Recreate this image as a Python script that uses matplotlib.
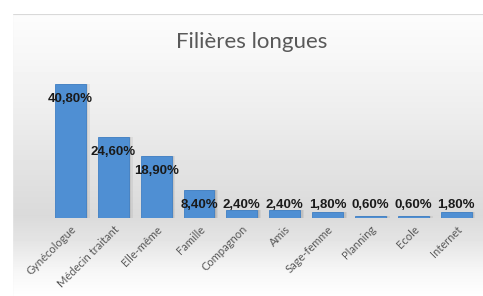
import numpy as np
import matplotlib
matplotlib.use("Agg")
from matplotlib import pyplot as plt
from matplotlib.patches import Rectangle

categories = ["Gynécologue", "Médecin traitant", "Elle-même", "Famille", "Compagnon",
              "Amis", "Sage-femme", "Planning", "Ecole", "Internet"]
values = [40.8, 24.6, 18.9, 8.4, 2.4, 2.4, 1.8, 0.6, 0.6, 1.8]
title = "Filières longues"

plt.rcParams['font.family'] = ['Lato', 'DejaVu Sans']

W, H = 483, 296
fig = plt.figure(figsize=(W / 100, H / 100), dpi=100)

# background gradient of the chart area
bg = fig.add_axes([0, 0, 1, 1], zorder=0)
bg.set_axis_off()
ys = np.array([0, 14, 60, 120, 180, 215, 240, 270, 296])
gs = np.array([255, 252, 246, 236, 224, 218, 228, 246, 255])
yy = np.arange(H)
col = np.interp(yy, ys, gs) / 255.0
img = np.repeat(col[:, None], 10, axis=1)
bg.imshow(img, cmap="gray", vmin=0, vmax=1, aspect="auto", extent=[0, 1, 0, 1])
bg.set_xlim(0, 1)
bg.set_ylim(0, 1)
# chart border
bg.add_patch(Rectangle((12 / W, -0.1), 1.2, 1 - 14 / H + 0.1, fill=False,
                       edgecolor="#d0d0d0", linewidth=0.8))
# white outside of border
bg.add_patch(Rectangle((0, 0), 12 / W - 0.001, 1, color="white"))
bg.add_patch(Rectangle((0, 1 - 14 / H + 0.002), 1, 1, color="white"))

fig.text(252 / W, 1 - 42 / H, title, ha="center", va="center",
         fontsize=16, color="#595959")

ax = fig.add_axes([49 / W, 1 - 218 / H, 428.5 / W, 148 / H], zorder=1)
ax.patch.set_alpha(0)
x = np.arange(len(categories))

# soft shadow
for dx, a in [(0.09, 0.10), (0.06, 0.12), (0.03, 0.14)]:
    ax.bar(x + dx, values, width=0.72, color="#606060", alpha=a, zorder=1)
ax.bar(x, values, width=0.72, color="#4f8fd3", edgecolor="#3f7fc4",
       linewidth=0.6, zorder=2)

for xi, v in zip(x, values):
    label = f"{v:.2f}%".replace(".", ",")
    ax.text(xi, max(v - 4.5, 4.0), label, ha="center", va="center",
            fontsize=9.5, fontweight="bold", color="#1a1a1a", zorder=3,
            family=["Liberation Sans", "DejaVu Sans"])

ax.set_xlim(-0.5, len(categories) - 0.5)
ax.set_ylim(0, 45)
ax.set_xticks(x)
ax.set_xticklabels(categories, rotation=45, ha="right", rotation_mode="anchor",
                   fontsize=8, color="#595959")
ax.tick_params(axis="x", length=0, pad=4)
ax.set_yticks([])
for s in ax.spines.values():
    s.set_visible(False)

fig.savefig("out.png", dpi=100)
